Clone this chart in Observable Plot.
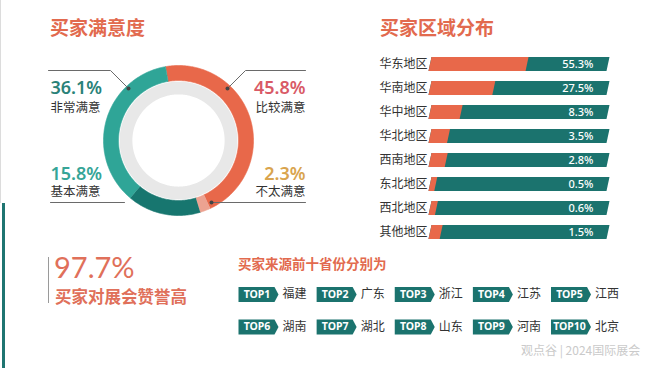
<!DOCTYPE html>
<html><head><meta charset="utf-8">
<script src="https://cdn.jsdelivr.net/npm/d3@7"></script>
<script src="https://cdn.jsdelivr.net/npm/@observablehq/plot@0.6"></script>
<style>
html,body{margin:0;padding:0;background:#fff;}
#root{position:relative;width:660px;height:368px;overflow:hidden;background:#fff;font-family:"Noto Sans","Noto Sans CJK SC",sans-serif;}
.abs{position:absolute;line-height:1;white-space:nowrap;}
.title{font-family:"Noto Sans CJK SC",sans-serif;font-size:19px;font-weight:700;color:#E26A4E;}
#bars svg rect{transform:skewX(-12deg);transform-box:fill-box;transform-origin:center;}
</style></head>
<body><div id="root">
  <div class="abs" style="left:0;top:0;width:1px;height:203px;background:#dcdcdc"></div>
  <div class="abs" style="left:2px;top:203px;width:3px;height:165px;background:#1F7571"></div>
  <div class="abs title" style="left:50px;top:17px">买家满意度</div>
  <div class="abs title" style="left:380px;top:17px">买家区域分布</div>
  <div id="donut" class="abs" style="left:0;top:0"></div>
  <div id="bars" class="abs" style="left:330px;top:40px"></div>
  <div class="abs" style="left:48px;top:257px;width:1px;height:46px;background:#9a9a9a"></div>
  <div class="abs" style="left:54px;top:252px;font-size:29px;font-weight:400;color:#E0705A;font-family:Lato,'Noto Sans',sans-serif;">97.7%</div>
  <div class="abs" style="left:55px;top:288px;font-size:16.5px;font-weight:700;color:#E0705A;font-family:'Noto Sans CJK SC',sans-serif;">买家对展会赞誉高</div>
  <div class="abs" style="left:238px;top:257px;font-size:13.5px;font-weight:700;color:#E26A4E;font-family:'Noto Sans CJK SC',sans-serif;">买家来源前十省份分别为</div>
  <div id="tops" class="abs" style="left:220px;top:280px"></div>
  <div class="abs" style="left:521px;top:344px;font-size:12px;color:#cacaca;font-family:'Noto Sans CJK SC',sans-serif;">观点谷 | 2024国际展会</div>
</div>
<script>
// ---------- data ----------
const satisfactionLabels = ["比较满意", "不太满意", "基本满意", "非常满意"];
const satisfactionValues = [45.8, 2.3, 15.8, 36.1];
const satisfactionColors = ["#E8684A", "#ECA291", "#17766F", "#2FA597"];

const regions = ["华东地区", "华南地区", "华中地区", "华北地区", "西南地区", "东北地区", "西北地区", "其他地区"];
const regionShares = [55.3, 27.5, 8.3, 3.5, 2.8, 0.5, 0.6, 1.5];

const topRanks = ["TOP1", "TOP2", "TOP3", "TOP4", "TOP5", "TOP6", "TOP7", "TOP8", "TOP9", "TOP10"];
const topProvinces = ["福建", "广东", "浙江", "江苏", "江西", "湖南", "湖北", "山东", "河南", "北京"];

const FONT = '"Noto Sans","Noto Sans CJK SC",sans-serif';
const TEAL = "#1B736E", ORANGE = "#E8684A";

// ---------- donut ----------
const W1 = 330, H1 = 230, CX = 178, CY = 140, R = 75;
const ux = px => (px - CX) / R, uy = py => (CY - py) / R;
const deg = Math.PI / 180;
function ring(key, a0, a1, r0, r1) {
  const pts = [], n = Math.max(2, Math.ceil((a1 - a0) / deg));
  for (let i = 0; i <= n; i++) { const a = a0 + (a1 - a0) * i / n; pts.push({key, x: r1 * Math.sin(a), y: r1 * Math.cos(a)}); }
  for (let i = n; i >= 0; i--) { const a = a0 + (a1 - a0) * i / n; pts.push({key, x: r0 * Math.sin(a), y: r0 * Math.cos(a)}); }
  return pts;
}
const arcs = d3.pie().sort(null).startAngle(-10 * deg).endAngle(350 * deg)(satisfactionValues);
const slicePts = arcs.flatMap((a, i) => ring(satisfactionLabels[i], a.startAngle, a.endAngle, 0.8, 1.0));
const grayPts = ring("bg", 0, 2 * Math.PI, 0.615, 0.785);

const leaders = [
  [[48, 70], [110, 70], [128, 88]],
  [[305, 70], [245, 70], [227, 88]],
  [[50, 202], [124, 202]],
  [[211, 202], [305, 202]]
].flatMap((l, id) => l.map(([px, py]) => ({id, x: ux(px), y: uy(py)})));
const leaderDots = [[128, 88], [227, 88], [211, 202]].map(([px, py]) => ({x: ux(px), y: uy(py)}));

const labelLayout = [
  {i: 0, px: 305, pct: 93.5, name: 111, anchor: "end", color: "#D95A66"},
  {i: 1, px: 305, pct: 179, name: 195.5, anchor: "end", color: "#D9A44E"},
  {i: 2, px: 50, pct: 179, name: 195.5, anchor: "start", color: "#36A597"},
  {i: 3, px: 50, pct: 93.5, name: 111, anchor: "start", color: "#2A8278"}
];
const donutMarks = labelLayout.flatMap(L => [
  Plot.text([satisfactionValues[L.i]], {x: ux(L.px), y: uy(L.pct - 0.32 * 18), text: d => d.toFixed(1) + "%", fill: L.color, fontSize: 18, fontWeight: 600, textAnchor: L.anchor}),
  Plot.text([satisfactionLabels[L.i]], {x: ux(L.px), y: uy(L.name - 0.32 * 12.5), text: d => d, fill: "#333", fontSize: 12.5, textAnchor: L.anchor})
]);

document.getElementById("donut").append(Plot.plot({
  width: W1, height: H1, margin: 0,
  style: {fontFamily: FONT, background: "transparent"},
  x: {domain: [ux(0), ux(W1)], axis: null},
  y: {domain: [uy(H1), uy(0)], axis: null},
  color: {domain: satisfactionLabels, range: satisfactionColors},
  marks: [
    Plot.line(grayPts, {x: "x", y: "y", z: "key", fill: "#E8E8E8", stroke: "none"}),
    Plot.line(slicePts, {x: "x", y: "y", z: "key", fill: "key", stroke: "key", strokeWidth: 0.6}),
    Plot.line(leaders, {x: "x", y: "y", z: "id", stroke: "#6a6a6a", strokeWidth: 1}),
    Plot.dot(leaderDots, {x: "x", y: "y", r: 2, fill: "#444", stroke: "none"}),
    ...donutMarks
  ]
}));

// ---------- region bars ----------
const BAR_FULL = 152;
const regionRows = regions.map((region, i) => ({region, share: regionShares[i]}));
document.getElementById("bars").append(Plot.plot({
  width: 330, height: 215, marginLeft: 100, marginRight: 52, marginTop: 0, marginBottom: 0,
  style: {fontFamily: FONT, fontSize: "12px", color: "#333", background: "transparent"},
  x: {type: "pow", exponent: 0.6, domain: [0, BAR_FULL], range: [100, 278], axis: null},
  y: {domain: regions, range: [4, 212.4], padding: 0.4, tickSize: 0, tickPadding: 3, label: null},
  marks: [
    Plot.barX(regionRows, {y: "region", x1: 0, x2: BAR_FULL, fill: TEAL}),
    Plot.barX(regionRows, {y: "region", x1: 0, x2: "share", fill: ORANGE}),
    Plot.text(regionRows, {y: "region", x: BAR_FULL, dx: -15, text: d => d.share.toFixed(1) + "%", fill: "white", fontSize: 11, fontWeight: 500, textAnchor: "end"})
  ]
}));

// ---------- top 10 provinces ----------
const topRows = topRanks.map((rank, i) => ({rank, province: topProvinces[i], col: i % 5, row: Math.floor(i / 5)}));
const badge = {draw(ctx) { ctx.moveTo(-20, -7.5); ctx.lineTo(16, -7.5); ctx.lineTo(20, 0); ctx.lineTo(16, 7.5); ctx.lineTo(-20, 7.5); ctx.closePath(); }};
document.getElementById("tops").append(Plot.plot({
  width: 440, height: 60, margin: 0,
  style: {fontFamily: FONT, background: "transparent"},
  x: {domain: [0, 4], range: [38, 350.5], axis: null},
  y: {domain: [0, 1], range: [14, 46.5], axis: null},
  marks: [
    Plot.dot(topRows, {x: "col", y: "row", symbol: badge, fill: TEAL, stroke: "none"}),
    Plot.text(topRows, {x: "col", y: "row", dx: -1.5, text: "rank", fill: "white", fontSize: 10.5, fontWeight: 700}),
    Plot.text(topRows, {x: "col", y: "row", dx: 24, text: "province", fill: "#333", fontSize: 12, textAnchor: "start"})
  ]
}));
</script>
</body></html>
